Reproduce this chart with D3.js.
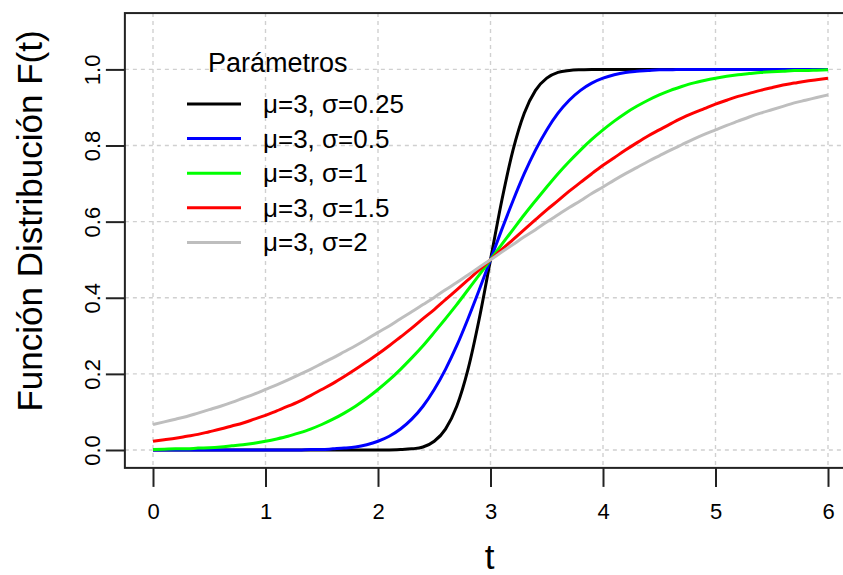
<!DOCTYPE html>
<html>
<head>
<meta charset="utf-8">
<script src="https://cdn.jsdelivr.net/npm/d3@7"></script>
<style>
  html, body { margin: 0; padding: 0; background: #fff; }
  svg { display: block; font-family: "Liberation Sans", Arial, sans-serif; }
</style>
</head>
<body>
<svg id="chart" width="843" height="575"></svg>
<script>
// t values sampled every 0.1 from 0 to 6
const tValues = d3.range(61).map(i => i / 10);

// Normal distribution functions F(t), mu = 3
const fSigma025 = [
  0,0,0,0,0,0,0,0,0,0, 0,0,0,0,0,0,0,0,0,0, 0,0,
  0.001,0.003,0.008,0.023,0.055,0.115,0.212,0.345,0.5,0.655,0.788,0.885,0.945,0.977,0.992,0.997,0.999,
  1,1,1,1,1,1,1,1,1,1, 1,1,1,1,1,1,1,1,1,1, 1,1
];
const fSigma05 = [
  0,0,0,0,0,0,0,0,0,0, 0,0,0,0,
  0.001,0.001,0.003,0.005,0.008,0.014,0.023,0.036,0.055,0.081,0.115,0.159,0.212,0.274,0.345,0.421,
  0.5,0.579,0.655,0.726,0.788,0.841,0.885,0.919,0.945,0.964,0.977,0.986,0.992,0.995,0.997,0.999,0.999,
  1,1,1,1,1,1,1,1,1,1, 1,1,1,1
];
const fSigma1 = [
  0.001,0.002,0.003,0.003,0.005,0.006,0.008,0.011,0.014,0.018,
  0.023,0.029,0.036,0.045,0.055,0.067,0.081,0.097,0.115,0.136,
  0.159,0.184,0.212,0.242,0.274,0.309,0.345,0.382,0.421,0.460,
  0.5,
  0.540,0.579,0.618,0.655,0.691,0.726,0.758,0.788,0.816,0.841,
  0.864,0.885,0.903,0.919,0.933,0.945,0.955,0.964,0.971,0.977,
  0.982,0.986,0.989,0.992,0.994,0.995,0.997,0.997,0.998,0.999
];
const fSigma15 = [
  0.023,0.027,0.031,0.036,0.041,0.048,0.055,0.063,0.071,0.081,
  0.091,0.103,0.115,0.128,0.143,0.159,0.175,0.193,0.212,0.232,
  0.252,0.274,0.297,0.320,0.345,0.369,0.395,0.421,0.447,0.473,
  0.5,
  0.527,0.553,0.579,0.605,0.631,0.655,0.680,0.703,0.726,0.748,
  0.768,0.788,0.807,0.825,0.841,0.857,0.872,0.885,0.897,0.909,
  0.919,0.929,0.937,0.945,0.952,0.959,0.964,0.969,0.973,0.977
];
const fSigma2 = [
  0.067,0.074,0.081,0.088,0.097,0.106,0.115,0.125,0.136,0.147,
  0.159,0.171,0.184,0.198,0.212,0.227,0.242,0.258,0.274,0.291,
  0.309,0.326,0.345,0.363,0.382,0.401,0.421,0.440,0.460,0.480,
  0.5,
  0.520,0.540,0.560,0.579,0.599,0.618,0.637,0.655,0.674,0.691,
  0.709,0.726,0.742,0.758,0.773,0.788,0.802,0.816,0.829,0.841,
  0.853,0.864,0.875,0.885,0.894,0.903,0.912,0.919,0.926,0.933
];

const seriesLabels = ["μ=3, σ=0.25", "μ=3, σ=0.5", "μ=3, σ=1", "μ=3, σ=1.5", "μ=3, σ=2"];
const seriesValues = [fSigma025, fSigma05, fSigma1, fSigma15, fSigma2];
const seriesColors = ["#000000", "#0000ff", "#00ff00", "#ff0000", "#bebebe"];

const xTicks = [0, 1, 2, 3, 4, 5, 6];
const yTicks = [0, 0.2, 0.4, 0.6, 0.8, 1.0];

const legendTitle = "Parámetros";
const xTitle = "t";
const yTitle = "Función Distribución F(t)";

// ---- scales & plot region ----
const svg = d3.select("#chart");
const x = d3.scaleLinear().domain([0, 6]).range([153, 828]);
const y = d3.scaleLinear().domain([0, 1]).range([450, 69.4]);

const boxLeft = x(-0.25), boxRight = x(6.25);
const boxTop = y(1.148), boxBottom = y(-0.047);

// ---- grid (dotted light grey) ----
const grid = svg.append("g")
  .attr("stroke", "#d0d0d0")
  .attr("stroke-width", 1.4)
  .attr("stroke-dasharray", "4,4");
grid.selectAll("line.v").data(xTicks).join("line")
  .attr("class", "v")
  .attr("x1", d => x(d)).attr("x2", d => x(d))
  .attr("y1", boxTop).attr("y2", boxBottom);
grid.selectAll("line.h").data(yTicks).join("line")
  .attr("class", "h")
  .attr("x1", boxLeft).attr("x2", boxRight)
  .attr("y1", d => y(d)).attr("y2", d => y(d));

// ---- curves ----
const line = d3.line()
  .x((d, i) => x(tValues[i]))
  .y(d => y(d))
  .curve(d3.curveMonotoneX);

svg.append("g")
  .selectAll("path")
  .data(seriesValues)
  .join("path")
  .attr("fill", "none")
  .attr("stroke", (d, i) => seriesColors[i])
  .attr("stroke-width", 3)
  .attr("stroke-linejoin", "round")
  .attr("d", line);

// ---- axes ----
const axisColor = "#222";

const xAxis = svg.append("g")
  .attr("transform", `translate(0,${boxBottom})`)
  .call(d3.axisBottom(x).tickValues(xTicks).tickSize(19).tickSizeOuter(0).tickFormat(d3.format("d")));
xAxis.select(".domain").remove();
xAxis.selectAll(".tick line").attr("stroke", axisColor).attr("stroke-width", 2);
xAxis.selectAll(".tick text")
  .attr("y", 51).attr("dy", null)
  .attr("fill", "#000")
  .style("font-size", "22px")
  .style("font-family", "'Liberation Sans', Arial, sans-serif");

const yAxis = svg.append("g")
  .attr("transform", `translate(${boxLeft},0)`)
  .call(d3.axisLeft(y).tickValues(yTicks).tickSize(19).tickSizeOuter(0).tickFormat(d3.format(".1f")));
yAxis.select(".domain").remove();
yAxis.selectAll(".tick line").attr("stroke", axisColor).attr("stroke-width", 2);
yAxis.selectAll(".tick text")
  .attr("x", 0).attr("y", -25).attr("dy", null)
  .attr("transform", "rotate(-90)")
  .attr("text-anchor", "middle")
  .attr("fill", "#000")
  .style("font-size", "22px")
  .style("font-family", "'Liberation Sans', Arial, sans-serif");

// ---- plot box (right side runs past the canvas edge) ----
svg.append("rect")
  .attr("x", boxLeft).attr("y", boxTop)
  .attr("width", boxRight - boxLeft).attr("height", boxBottom - boxTop)
  .attr("fill", "none")
  .attr("stroke", axisColor)
  .attr("stroke-width", 2);

// ---- axis titles ----
svg.append("text")
  .attr("x", (boxLeft + boxRight) / 2 - 1).attr("y", 569)
  .attr("text-anchor", "middle")
  .style("font-size", "35px")
  .text(xTitle);

svg.append("text")
  .attr("transform", "translate(42,221) rotate(-90)")
  .attr("text-anchor", "middle")
  .style("font-size", "35px")
  .text(yTitle);

// ---- legend ----
const legend = svg.append("g");
legend.append("text")
  .attr("x", 208).attr("y", 72)
  .style("font-size", "27px")
  .text(legendTitle);

const rows = legend.selectAll("g.row")
  .data(seriesLabels)
  .join("g")
  .attr("class", "row")
  .attr("transform", (d, i) => `translate(0,${104 + i * 34.6})`);
rows.append("line")
  .attr("x1", 187).attr("x2", 241)
  .attr("stroke", (d, i) => seriesColors[i])
  .attr("stroke-width", 3);
rows.append("text")
  .attr("x", 263).attr("y", 9)
  .style("font-size", "26px")
  .text(d => d);
</script>
</body>
</html>
